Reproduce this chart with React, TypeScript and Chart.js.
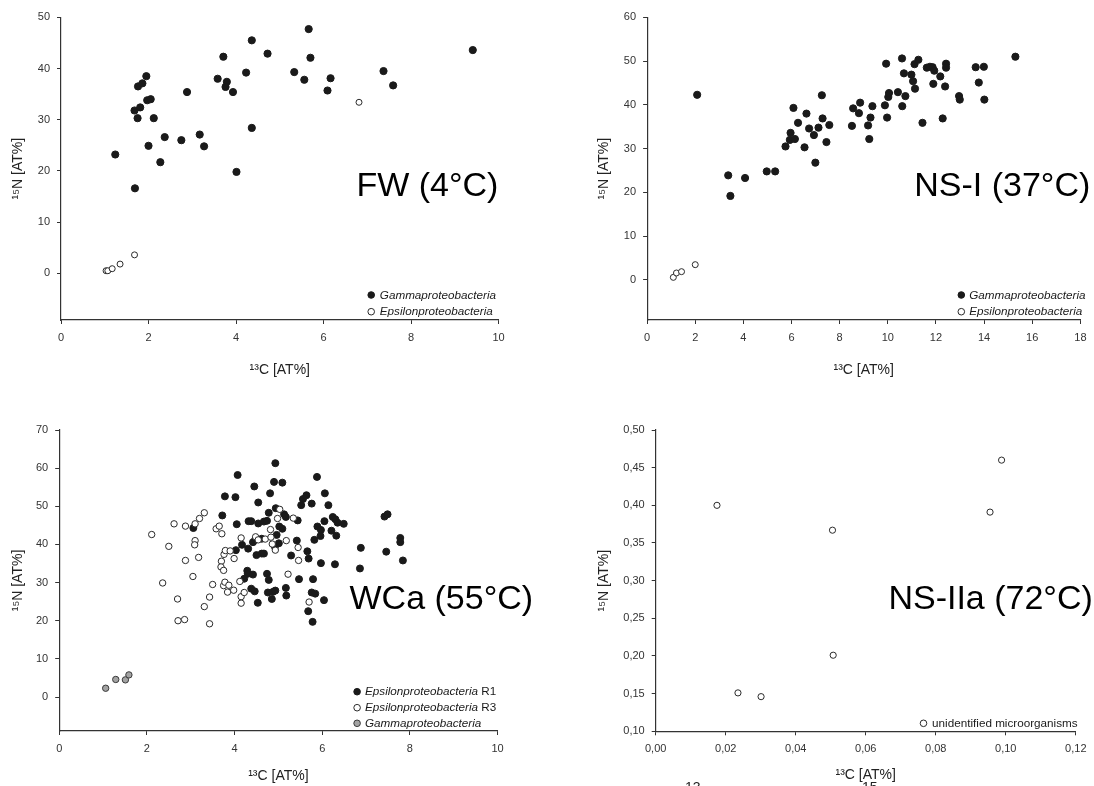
import React, { useEffect, useRef } from "react";
import { Chart, registerables } from "chart.js";

Chart.register(...registerables);

const FONT = '"Liberation Sans", Arial, Helvetica, sans-serif';

// ---------------- FW (4°C) ----------------
const fwGammaX = [1.24, 1.69, 1.68, 1.75, 1.81, 1.76, 1.86, 1.95, 1.97, 2.05, 2.0, 2.12, 2.27, 2.37, 2.75, 2.88, 3.17, 3.27, 3.58, 3.71, 3.79, 3.76, 3.93, 4.01, 4.23, 4.36, 4.36, 4.72, 5.33, 5.56, 5.66, 5.7, 6.09, 6.16, 7.37, 7.59, 9.41];
const fwGammaY = [23.2, 16.6, 31.8, 30.3, 32.4, 36.5, 37.1, 38.5, 33.8, 34.0, 24.9, 30.3, 21.7, 26.6, 26.0, 35.4, 27.1, 24.8, 38.0, 42.3, 37.4, 36.4, 35.4, 19.8, 39.2, 45.5, 28.4, 42.9, 39.3, 37.8, 47.7, 42.1, 35.7, 38.1, 39.5, 36.7, 43.6];
const fwEpsX = [1.03, 1.07, 1.17, 1.35, 1.68, 6.81];
const fwEpsY = [0.5, 0.5, 0.9, 1.8, 3.6, 33.4];
const fwXTicks = [0, 2, 4, 6, 8, 10];
const fwYTicks = [0, 10, 20, 30, 40, 50];

// ---------------- NS-I (37°C) ----------------
const ns1GammaX = [2.08, 3.37, 3.46, 4.07, 4.97, 5.32, 5.75, 5.96, 5.93, 6.14,
  6.08, 6.27, 6.54, 6.62, 6.73, 6.93, 6.99, 7.12, 7.26, 7.29,
  7.45, 7.57, 8.51, 8.56, 8.8, 8.85, 9.18, 9.23, 9.28, 9.36,
  9.88, 9.93, 9.97, 10.02, 10.05, 10.42, 10.59, 10.6, 10.67, 10.73,
  10.98, 11.05, 11.11, 11.13, 11.27, 11.44, 11.62, 11.75, 11.86, 11.89,
  11.93, 12.18, 12.28, 12.38, 12.42, 12.42, 12.96, 12.99, 13.65, 13.78,
  13.99, 14.01, 15.3];
const ns1GammaY = [42.3, 23.9, 19.2, 23.3, 24.8, 24.8, 30.5, 33.6, 32.0, 32.2,
  39.3, 35.9, 30.3, 38.0, 34.6, 33.1, 26.8, 34.8, 42.2, 36.9,
  31.5, 35.4, 35.2, 39.2, 38.1, 40.5, 35.3, 32.2, 37.1, 39.7,
  39.9, 49.4, 37.1, 41.8, 42.7, 42.9, 50.6, 39.7, 47.2, 42.0,
  46.9, 45.4, 49.3, 43.7, 50.3, 35.9, 48.5, 48.7, 48.6, 44.8,
  47.8, 46.5, 36.9, 44.2, 49.4, 48.5, 42.0, 41.2, 48.6, 45.1,
  48.7, 41.2, 51.0];
const ns1EpsX = [1.09, 1.22, 1.43, 2.0];
const ns1EpsY = [0.6, 1.6, 1.9, 3.5];
const ns1XTicks = [0, 2, 4, 6, 8, 10, 12, 14, 16, 18];
const ns1YTicks = [0, 10, 20, 30, 40, 50, 60];

// ---------------- WCa (55°C) ----------------
const wcaR1X = [4.93, 4.07, 5.88, 4.45, 4.9, 5.09, 3.78, 4.02, 4.81, 5.64,
  6.06, 4.54, 5.56, 5.52, 5.76, 6.14, 4.94, 3.72, 4.78, 5.13,
  5.17, 6.24, 7.42, 7.49, 5.44, 4.05, 4.32, 4.38, 4.54, 4.67,
  4.74, 6.05, 6.3, 6.35, 6.49, 5.02, 5.09, 4.96, 5.89, 5.97,
  6.21, 5.96, 6.32, 3.06, 4.03, 4.17, 4.31, 4.42, 4.62, 5.01,
  5.42, 5.82, 6.88, 7.78, 7.78, 4.5, 4.62, 4.67, 5.29, 5.66,
  5.69, 5.97, 6.29, 7.46, 7.84, 6.86, 4.29, 4.3, 4.42, 4.74,
  4.78, 4.22, 5.47, 5.79, 4.38, 4.46, 4.76, 4.88, 4.93, 5.17,
  4.85, 4.53, 5.18, 5.76, 5.84, 6.04, 5.68, 5.78, 4.92, 4.47];
const wcaR1Y = [61.3, 58.2, 57.7, 55.2, 56.4, 56.2, 52.6, 52.4, 53.4, 52.9,
  53.4, 51.0, 51.9, 50.3, 50.7, 50.3, 49.5, 47.6, 48.3, 47.9,
  47.2, 47.2, 47.3, 47.9, 46.3, 45.3, 46.1, 46.1, 45.5, 46.0,
  46.2, 46.1, 46.6, 45.7, 45.4, 44.7, 44.1, 42.5, 44.7, 43.8,
  43.6, 42.2, 42.3, 44.3, 38.5, 39.9, 38.9, 40.6, 41.5, 40.3,
  41.0, 41.2, 39.1, 41.7, 40.6, 37.2, 37.6, 37.6, 37.1, 38.2,
  36.3, 35.1, 34.8, 38.1, 35.8, 33.7, 33.1, 32.3, 32.1, 32.3,
  30.7, 31.0, 30.9, 30.9, 28.4, 27.7, 27.4, 27.6, 27.9, 28.6,
  25.7, 24.7, 26.6, 27.4, 27.1, 25.4, 22.5, 19.7, 39.4, 41.2];
const wcaR3X = [2.11, 2.5, 2.62, 2.88, 3.1, 3.2, 3.31, 3.1, 3.09, 3.18,
  2.88, 3.05, 2.36, 2.7, 2.71, 2.86, 3.31, 3.43, 3.43, 3.5,
  3.58, 3.65, 3.71, 3.76, 3.7, 3.69, 3.75, 3.79, 3.9, 3.99,
  3.75, 3.78, 3.84, 3.87, 3.98, 4.12, 4.15, 4.15, 4.22, 4.15,
  4.48, 4.54, 4.7, 4.82, 4.83, 4.86, 4.93, 5.03, 4.98, 5.18,
  5.34, 5.45, 5.46, 5.22, 5.7];
const wcaR3Y = [42.6, 39.5, 45.4, 44.8, 45.4, 46.8, 48.3, 41.0, 39.9, 36.6,
  35.8, 31.6, 29.9, 25.7, 20.0, 20.3, 23.7, 26.2, 19.2, 29.5,
  44.1, 44.8, 42.8, 37.4, 35.6, 34.1, 33.2, 38.4, 38.3, 36.3,
  29.2, 30.1, 27.5, 29.3, 28.0, 30.3, 26.3, 24.6, 27.4, 41.7,
  42.0, 41.2, 41.4, 43.9, 41.9, 40.1, 38.5, 49.2, 46.8, 41.0,
  46.9, 39.2, 35.8, 32.2, 24.9];
const wcaGammaX = [1.06, 1.29, 1.51, 1.59];
const wcaGammaY = [2.3, 4.6, 4.5, 5.8];
const wcaXTicks = [0, 2, 4, 6, 8, 10];
const wcaYTicks = [0, 10, 20, 30, 40, 50, 60, 70];

// ---------------- NS-IIa (72°C) ----------------
const ns2UnidX = [0.0175, 0.0235, 0.0301, 0.0505, 0.0507, 0.0955, 0.0988];
const ns2UnidY = [0.4, 0.151, 0.146, 0.367, 0.201, 0.391, 0.46];
const ns2XTicks = [0, 0.02, 0.04, 0.06, 0.08, 0.1, 0.12];
const ns2YTicks = [0.1, 0.15, 0.2, 0.25, 0.3, 0.35, 0.4, 0.45, 0.5];

const xTitle = "¹³C [AT%]";
const yTitle = "¹⁵N [AT%]";

type Series = { xs: number[]; ys: number[]; fill: string; border: string; r: number; order: number };
type LegendRow = { y: number; fill: string; border: string; parts: { text: string; italic: boolean }[] };
type PanelCfg = {
  id: string;
  cx: number; cy: number; w: number; h: number;
  area: { left: number; right: number; top: number; bottom: number };
  xMin: number; xMax: number; yMin: number; yMax: number;
  xTicks: number[]; yTicks: number[]; decimals: number;
  yTitleX: number; xTitleY: number;
  label: { text: string; x: number; y: number };
  legend: { markerX: number; textX: number; rows: LegendRow[] };
  series: Series[];
};

const BLACK = "#1a1a1a";
const OPEN_BORDER = "#2a2a2a";

const PANELS: PanelCfg[] = [
  {
    id: "fw", cx: 0, cy: 0, w: 547, h: 390,
    area: { left: 61, right: 498.6, top: 17.3, bottom: 320 },
    xMin: 0, xMax: 10, yMin: -9.12, yMax: 50,
    xTicks: fwXTicks, yTicks: fwYTicks, decimals: 0,
    yTitleX: 18, xTitleY: 370,
    label: { text: "FW (4°C)", x: 356.4, y: 196 },
    legend: {
      markerX: 371.2, textX: 379.8,
      rows: [
        { y: 295, fill: BLACK, border: BLACK, parts: [{ text: "Gammaproteobacteria", italic: true }] },
        { y: 311.7, fill: "#fff", border: OPEN_BORDER, parts: [{ text: "Epsilonproteobacteria", italic: true }] },
      ],
    },
    series: [
      { xs: fwGammaX, ys: fwGammaY, fill: BLACK, border: BLACK, r: 3.6, order: 1 },
      { xs: fwEpsX, ys: fwEpsY, fill: "#fff", border: OPEN_BORDER, r: 3.0, order: 0 },
    ],
  },
  {
    id: "ns1", cx: 547, cy: 0, w: 547, h: 390,
    area: { left: 647.1, right: 1085.4, top: 17.3, bottom: 320 },
    xMin: 0, xMax: 18, yMin: -9.14, yMax: 60,
    xTicks: ns1XTicks, yTicks: ns1YTicks, decimals: 0,
    yTitleX: 604, xTitleY: 370,
    label: { text: "NS-I (37°C)", x: 914.2, y: 196 },
    legend: {
      markerX: 961.3, textX: 969.2,
      rows: [
        { y: 295, fill: BLACK, border: BLACK, parts: [{ text: "Gammaproteobacteria", italic: true }] },
        { y: 311.7, fill: "#fff", border: OPEN_BORDER, parts: [{ text: "Epsilonproteobacteria", italic: true }] },
      ],
    },
    series: [
      { xs: ns1GammaX, ys: ns1GammaY, fill: BLACK, border: BLACK, r: 3.6, order: 1 },
      { xs: ns1EpsX, ys: ns1EpsY, fill: "#fff", border: OPEN_BORDER, r: 3.0, order: 0 },
    ],
  },
  {
    id: "wca", cx: 0, cy: 390, w: 547, h: 396,
    area: { left: 59.2, right: 497.6, top: 430, bottom: 731 },
    xMin: 0, xMax: 10, yMin: -8.91, yMax: 70,
    xTicks: wcaXTicks, yTicks: wcaYTicks, decimals: 0,
    yTitleX: 18, xTitleY: 776,
    label: { text: "WCa (55°C)", x: 349.5, y: 609 },
    legend: {
      markerX: 357.1, textX: 365,
      rows: [
        { y: 691.7, fill: BLACK, border: BLACK, parts: [{ text: "Epsilonproteobacteria", italic: true }, { text: " R1", italic: false }] },
        { y: 707.7, fill: "#fff", border: OPEN_BORDER, parts: [{ text: "Epsilonproteobacteria", italic: true }, { text: " R3", italic: false }] },
        { y: 723.3, fill: "#a3a3a3", border: "#3a3a3a", parts: [{ text: "Gammaproteobacteria", italic: true }] },
      ],
    },
    series: [
      { xs: wcaR1X, ys: wcaR1Y, fill: BLACK, border: BLACK, r: 3.5, order: 2 },
      { xs: wcaR3X, ys: wcaR3Y, fill: "#fff", border: OPEN_BORDER, r: 3.2, order: 1 },
      { xs: wcaGammaX, ys: wcaGammaY, fill: "#a3a3a3", border: "#3a3a3a", r: 3.2, order: 0 },
    ],
  },
  {
    id: "ns2", cx: 547, cy: 390, w: 547, h: 396,
    area: { left: 655.7, right: 1081, top: 430, bottom: 731.3 },
    xMin: 0, xMax: 0.12, yMin: 0.1, yMax: 0.5,
    xTicks: ns2XTicks, yTicks: ns2YTicks, decimals: 2,
    yTitleX: 604, xTitleY: 775,
    label: { text: "NS-IIa (72°C)", x: 888.4, y: 609 },
    legend: {
      markerX: 923.5, textX: 932.1,
      rows: [
        { y: 723.3, fill: "#fff", border: OPEN_BORDER, parts: [{ text: "unidentified microorganisms", italic: false }] },
      ],
    },
    series: [
      { xs: ns2UnidX, ys: ns2UnidY, fill: "#fff", border: OPEN_BORDER, r: 3.1, order: 0 },
    ],
  },
];

const TICK_FONT = { family: FONT, size: 11 };
const TITLE_FONT = { family: FONT, size: 14 };
const TITLE_LH = 14 * 1.2;
const TICK_LEN = 4;

function makeChart(canvas: HTMLCanvasElement, p: PanelCfg) {
  const left = p.area.left - p.cx;
  const right = p.area.right - p.cx;
  const top = p.area.top - p.cy;
  const bottom = p.area.bottom - p.cy;
  const fmt = (v: number) => (p.decimals ? Number(v).toFixed(p.decimals).replace(".", ",") : String(v));

  const overlay = {
    id: "overlay_" + p.id,
    afterDraw(chart: any) {
      const ctx = chart.ctx as CanvasRenderingContext2D;
      ctx.save();
      ctx.fillStyle = "#000";
      ctx.font = `34px ${FONT}`;
      ctx.textAlign = "left";
      ctx.textBaseline = "alphabetic";
      ctx.fillText(p.label.text, p.label.x - p.cx, p.label.y - p.cy);
      ctx.textBaseline = "middle";
      for (const row of p.legend.rows) {
        const y = row.y - p.cy;
        ctx.beginPath();
        ctx.arc(p.legend.markerX - p.cx, y, 3.3, 0, Math.PI * 2);
        ctx.fillStyle = row.fill;
        ctx.fill();
        ctx.lineWidth = 1;
        ctx.strokeStyle = row.border;
        ctx.stroke();
        let x = p.legend.textX - p.cx;
        ctx.fillStyle = "#1a1a1a";
        for (const part of row.parts) {
          ctx.font = `${part.italic ? "italic " : ""}11.7px ${FONT}`;
          ctx.fillText(part.text, x, y + 0.5);
          x += ctx.measureText(part.text).width;
        }
      }
      ctx.restore();
    },
  };

  const axisCommon = {
    type: "linear" as const,
    grid: { display: true, drawOnChartArea: false, drawTicks: true, tickLength: TICK_LEN, tickColor: "#333", tickWidth: 1 },
    border: { display: true, color: "#333", width: 1.2 },
  };

  return new Chart(canvas, {
    type: "scatter",
    data: {
      datasets: p.series.map((s) => ({
        data: s.xs.map((x, i) => ({ x, y: s.ys[i] })),
        backgroundColor: s.fill,
        borderColor: s.border,
        borderWidth: 1,
        pointRadius: s.r,
        pointHoverRadius: s.r,
        order: s.order,
      })),
    },
    options: {
      animation: false,
      responsive: false,
      events: [],
      layout: { padding: { left: 0, top, right: p.w - right, bottom: 0 } },
      plugins: { legend: { display: false }, tooltip: { enabled: false } },
      scales: {
        x: {
          ...axisCommon,
          position: "bottom",
          min: p.xMin,
          max: p.xMax,
          afterBuildTicks: (s: any) => {
            s.ticks = p.xTicks.map((v) => ({ value: v }));
          },
          afterFit: (s: any) => {
            s.height = p.h - bottom;
          },
          ticks: { font: TICK_FONT, color: "#333", padding: 7.5, autoSkip: false, maxRotation: 0, callback: (v: any) => fmt(v) },
          title: {
            display: true, text: xTitle, font: TITLE_FONT, color: "#222",
            padding: { top: 0, bottom: p.h - TITLE_LH / 2 - (p.xTitleY - p.cy) },
          },
        },
        y: {
          ...axisCommon,
          position: "left",
          min: p.yMin,
          max: p.yMax,
          afterBuildTicks: (s: any) => {
            s.ticks = p.yTicks.map((v) => ({ value: v }));
          },
          afterFit: (s: any) => {
            s.width = left;
          },
          ticks: { font: TICK_FONT, color: "#333", padding: 7, autoSkip: false, callback: (v: any) => fmt(v) },
          title: {
            display: true, text: yTitle, font: TITLE_FONT, color: "#222",
            padding: { top: p.yTitleX - p.cx - TITLE_LH / 2, bottom: 0 },
          },
        },
      },
    } as any,
    plugins: [overlay],
  });
}

function Panel({ cfg }: { cfg: PanelCfg }) {
  const ref = useRef<HTMLCanvasElement>(null);
  useEffect(() => {
    if (!ref.current) return;
    const chart = makeChart(ref.current, cfg);
    return () => chart.destroy();
  }, [cfg]);
  return (
    <canvas
      ref={ref}
      width={cfg.w}
      height={cfg.h}
      style={{ position: "absolute", left: cfg.cx, top: cfg.cy, width: cfg.w, height: cfg.h }}
    />
  );
}

export default function App() {
  const capStyle: React.CSSProperties = {
    position: "absolute",
    top: 780,
    fontFamily: FONT,
    fontSize: 14,
    lineHeight: 1,
    color: "#222",
    whiteSpace: "nowrap",
  };
  return (
    <div style={{ position: "absolute", left: 0, top: 0, width: 1094, height: 786, overflow: "hidden", background: "#fff" }}>
      {PANELS.map((p) => (
        <Panel key={p.id} cfg={p} />
      ))}
      <span style={{ ...capStyle, left: 685 }}>13</span>
      <span style={{ ...capStyle, left: 862 }}>15</span>
    </div>
  );
}
